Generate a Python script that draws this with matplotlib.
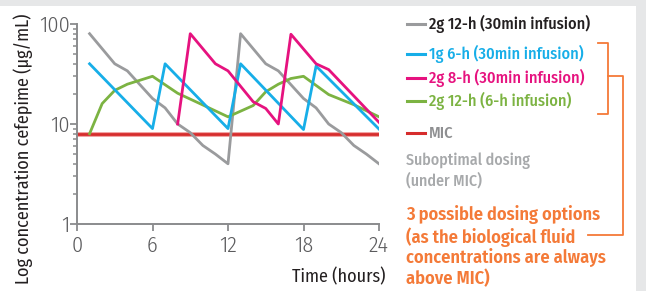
import matplotlib
matplotlib.use("Agg")
import matplotlib.pyplot as plt
from matplotlib.lines import Line2D
from matplotlib.patches import Rectangle

FONT = ['Fira Sans Condensed', 'DejaVu Sans']
plt.rcParams['font.family'] = FONT

# --- data ---
gray_t = [1, 3, 4, 6, 7, 8, 9, 10, 11, 12, 13, 15, 16, 18, 19, 20, 21, 22, 23, 24]
gray_v = [80, 40, 34, 18, 14.5, 10, 8.2, 6.1, 5.0, 4, 80, 40, 34, 18, 14.5, 10, 8.2, 6.1, 5.0, 4]

blue_t = [1, 6, 7, 12, 13, 18, 19, 24]
blue_v = [40, 9, 40, 9, 40, 8.8, 38, 8.9]

pink_t = [8, 9, 11, 12, 14, 15, 16, 17, 19, 20, 24]
pink_v = [10, 80, 40, 34, 16.7, 14.3, 10, 79, 40, 35, 10.4]

green_t = [1, 2, 3, 4, 6, 8, 10, 12, 14, 15, 16, 17, 18, 20, 22, 24]
green_v = [8, 16, 21.7, 25, 30, 20.3, 15.5, 11.8, 15.3, 21, 25, 28.5, 30, 19.7, 15.6, 11.8]

mic_t = [0, 24]
mic_v = [8, 8]

x_ticks = [0, 6, 12, 18, 24]
y_ticks = [1, 10, 100]
y_ticklabels = ['1', '10', '100']

legend_labels = ['2g 12-h (30min infusion)', '1g 6-h (30min infusion)',
                 '2g 8-h (30min infusion)', '2g 12-h (6-h infusion)', 'MIC']

C_GRAY = '#9a9b9d'
C_BLUE = '#17aee8'
C_PINK = '#e6127f'
C_GREEN = '#7cb342'
C_RED = '#d62d2d'
C_ORANGE = '#f47a38'
C_TEXT = '#231f20'
C_AXIS = '#8a8b8d'
C_LABEL = '#5b5b5d'

W, H = 646, 291
fig = plt.figure(figsize=(W / 100, H / 100), dpi=100)
fig.patch.set_facecolor('white')
fig.add_artist(Rectangle((0, 1 - 6 / H), 1, 6 / H, transform=fig.transFigure,
                         facecolor='#e6e7e8', edgecolor='none', zorder=0))
fig.add_artist(Rectangle((636 / W, 0), 10 / W, 1, transform=fig.transFigure,
                         facecolor='#e6e7e8', edgecolor='none', zorder=0))

ax = fig.add_axes([77 / W, 1 - 224 / H, 302 / W, 200 / H])
ax.set_facecolor('none')
ax.set_yscale('log')
ax.set_xlim(0, 24)
ax.set_ylim(1, 100)

ax.plot(mic_t, mic_v, color='#f2a5a5', lw=3.6, solid_capstyle='butt', zorder=2)
ax.plot(mic_t, mic_v, color=C_RED, lw=2.0, solid_capstyle='butt', zorder=2)
ax.plot(gray_t, gray_v, color=C_GRAY, lw=2.0, zorder=3)
ax.plot(green_t, green_v, color=C_GREEN, lw=2.0, zorder=4)
ax.plot(blue_t, blue_v, color=C_BLUE, lw=2.0, zorder=5)
ax.plot(pink_t, pink_v, color=C_PINK, lw=2.0, zorder=6)

for s in ['top', 'right']:
    ax.spines[s].set_visible(False)
for s in ['left', 'bottom']:
    ax.spines[s].set_color(C_AXIS)
    ax.spines[s].set_linewidth(1.4)

ax.set_xticks(x_ticks)
ax.set_xticklabels([str(t) for t in x_ticks])
ax.set_yticks(y_ticks)
ax.set_yticklabels(y_ticklabels)
ax.tick_params(axis='both', which='major', length=5, width=1.3, color=C_AXIS,
               labelsize=16, labelcolor=C_LABEL)
ax.tick_params(axis='y', which='major', pad=0)
ax.tick_params(axis='x', which='major', pad=3)
ax.tick_params(axis='y', which='minor', length=3, width=1.1, color=C_AXIS)
ax.yaxis.set_minor_formatter(matplotlib.ticker.NullFormatter())
for lab in ax.get_xticklabels() + ax.get_yticklabels():
    lab.set_fontweight(300)

fig.text(23 / W, 1 - 149 / H, 'Log concentration cefepime (µg/mL)', rotation=90,
         ha='center', va='center', fontsize=13, color=C_TEXT)
fig.text(385 / W, 1 - 277 / H, 'Time (hours)', ha='right', va='center',
         fontsize=13, color=C_TEXT)

# legend
leg_y = [24, 54.3, 77.7, 101, 133.3]
leg_c = [C_GRAY, C_BLUE, C_PINK, C_GREEN, C_RED]
leg_tc = [C_TEXT, C_BLUE, C_PINK, C_GREEN, '#8e8f91']
for lbl, yy, c, tc in zip(legend_labels, leg_y, leg_c, leg_tc):
    fig.add_artist(Line2D([406.5 / W, 425 / W], [1 - yy / H, 1 - yy / H],
                          transform=fig.transFigure, color=c, lw=2.2))
    fig.text(429 / W, 1 - yy / H, lbl, ha='left', va='center', fontsize=11.7,
             fontweight=500, color=tc)

fig.text(406 / W, 1 - 161 / H, 'Suboptimal dosing', ha='left', va='center',
         fontsize=11.5, fontweight=500, color='#a7a9ab')
fig.text(406 / W, 1 - 181 / H, '(under MIC)', ha='left', va='center',
         fontsize=11.5, fontweight=500, color='#a7a9ab')

orange_lines = ['3 possible dosing options', '(as the biological fluid',
                'concentrations are always', 'above MIC)']
for line, yy in zip(orange_lines, [215, 236.7, 258.3, 279]):
    fig.text(406 / W, 1 - yy / H, line, ha='left', va='center', fontsize=13.2,
             fontweight=600, color=C_ORANGE)

def fl(xs, ys):
    fig.add_artist(Line2D([x / W for x in xs], [1 - y / H for y in ys],
                          transform=fig.transFigure, color=C_ORANGE, lw=1.3))

fl([598, 608.3, 608.3, 598], [43.3, 43.3, 114.3, 114.3])
fl([608.3, 622.7, 622.7, 588], [75.7, 75.7, 235, 235])

fig.savefig('out.png', dpi=100)
